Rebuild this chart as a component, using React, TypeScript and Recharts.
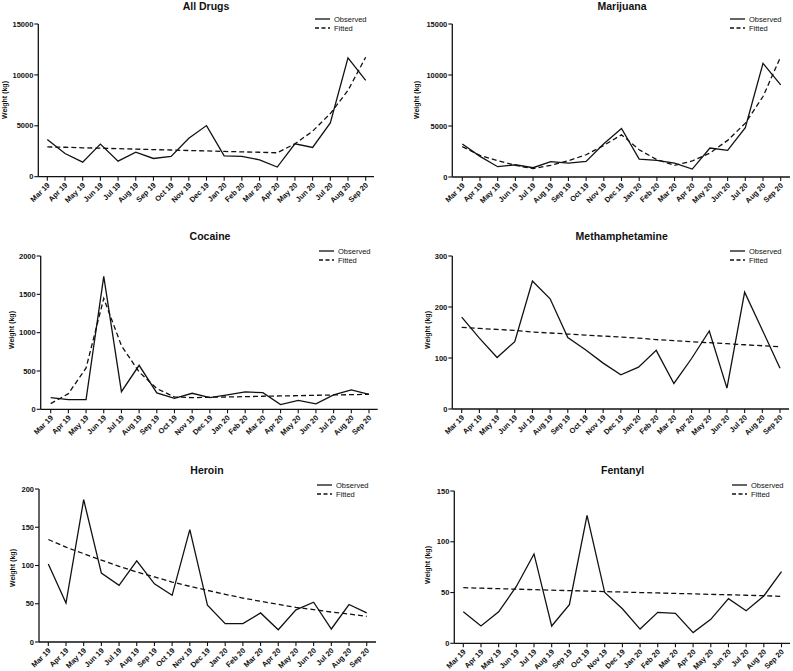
import React from 'react';
import { LineChart, Line, XAxis, YAxis } from 'recharts';

const months = ['Mar 19', 'Apr 19', 'May 19', 'Jun 19', 'Jul 19', 'Aug 19', 'Sep 19', 'Oct 19', 'Nov 19', 'Dec 19', 'Jan 20', 'Feb 20', 'Mar 20', 'Apr 20', 'May 20', 'Jun 20', 'Jul 20', 'Aug 20', 'Sep 20'];

const allDrugsObserved = [3650, 2280, 1430, 3200, 1530, 2410, 1790, 1990, 3780, 5020, 2050, 1990, 1660, 950, 3230, 2870, 5280, 11670, 9460];
const allDrugsFitted = [2930, 2890, 2840, 2800, 2750, 2710, 2660, 2620, 2570, 2530, 2480, 2440, 2400, 2350, 3230, 4470, 6200, 8480, 11740];

const marijuanaObserved = [3230, 2020, 1010, 1200, 910, 1500, 1370, 1530, 3250, 4760, 1760, 1630, 1370, 780, 2840, 2610, 4830, 11150, 9030];
const marijuanaFitted = [2970, 2120, 1600, 1140, 820, 1140, 1600, 2180, 3100, 4140, 2670, 1700, 1140, 1570, 2350, 3590, 5280, 7890, 11800];

const cocaineObserved = [152, 126, 126, 1735, 230, 574, 213, 143, 209, 152, 187, 226, 217, 61, 117, 70, 187, 252, 196];
const cocaineFitted = [74, 204, 539, 1448, 830, 487, 270, 161, 152, 157, 161, 165, 170, 174, 178, 183, 187, 191, 196];

const methObserved = [180, 139, 101, 132, 251, 216, 140, 116, 90, 67, 82, 115, 50, 99, 153, 41, 229, 155, 80];
const methFitted = [160, 158, 156, 154, 151, 149, 147, 145, 143, 141, 139, 136, 134, 132, 130, 128, 126, 124, 122];

const heroinObserved = [102, 51, 186, 90, 74, 106, 76, 61, 147, 48, 24, 24, 38, 16, 42, 52, 17, 49, 38];
const heroinFitted = [134, 124, 115.5, 107, 99, 91.5, 85, 78.4, 72.8, 67.5, 62.3, 57.5, 53.2, 49.2, 45.3, 42.3, 39.2, 36.6, 33.5];

const fentanylObserved = [31, 17, 31, 56, 88, 17, 38, 126, 50, 34, 14, 30.5, 29.5, 10.5, 23.6, 44, 32, 46.6, 70.6];
const fentanylFitted = [54.8, 54.3, 53.8, 53.3, 52.8, 52.3, 51.9, 51.4, 50.9, 50.5, 50.0, 49.6, 49.1, 48.7, 48.2, 47.8, 47.3, 46.9, 46.2];

const allDrugsTicks = [0, 5000, 10000, 15000];
const marijuanaTicks = [0, 5000, 10000, 15000];
const cocaineTicks = [0, 500, 1000, 1500, 2000];
const methTicks = [0, 100, 200, 300];
const heroinTicks = [0, 50, 100, 150, 200];
const fentanylTicks = [0, 50, 100, 150];

const FONT = '"Liberation Sans", Arial, Helvetica, sans-serif';

type Panel = {
  title: string;
  obs: number[];
  fit: number[];
  ticks: number[];
  left: number;
  axisX: number;
  xEnd: number;
  top: number;
  bottom: number;
  padL: number;
  padR: number;
  titleX: number;
  titleY: number;
  legendX: number;
  legendY: number;
  yLabelX: number;
  yLabelY: number;
};

const panels: Panel[] = [
  { title: 'All Drugs', obs: allDrugsObserved, fit: allDrugsFitted, ticks: allDrugsTicks, left: 0, axisX: 38.3, xEnd: 374, top: 24, bottom: 176.7, padL: 9, padR: 8.3, titleX: 206, titleY: 6, legendX: 315, legendY: 19, yLabelX: 5, yLabelY: 100 },
  { title: 'Marijuana', obs: marijuanaObserved, fit: marijuanaFitted, ticks: marijuanaTicks, left: 400, axisX: 452.3, xEnd: 790, top: 24, bottom: 177, padL: 10, padR: 9.3, titleX: 622, titleY: 6, legendX: 730, legendY: 19, yLabelX: 417, yLabelY: 100 },
  { title: 'Cocaine', obs: cocaineObserved, fit: cocaineFitted, ticks: cocaineTicks, left: 0, axisX: 40.7, xEnd: 377.7, top: 255.7, bottom: 409, padL: 10, padR: 8.7, titleX: 210, titleY: 236, legendX: 319, legendY: 251, yLabelX: 12, yLabelY: 330 },
  { title: 'Methamphetamine', obs: methObserved, fit: methFitted, ticks: methTicks, left: 400, axisX: 452.3, xEnd: 789, top: 256, bottom: 409, padL: 9.4, padR: 9, titleX: 621.7, titleY: 236, legendX: 730, legendY: 251, yLabelX: 428, yLabelY: 330 },
  { title: 'Heroin', obs: heroinObserved, fit: heroinFitted, ticks: heroinTicks, left: 0, axisX: 39, xEnd: 376, top: 489.3, bottom: 642.3, padL: 9.3, padR: 9.3, titleX: 207, titleY: 470, legendX: 317, legendY: 484.7, yLabelX: 13, yLabelY: 568 },
  { title: 'Fentanyl', obs: fentanylObserved, fit: fentanylFitted, ticks: fentanylTicks, left: 400, axisX: 454.3, xEnd: 790, top: 491, bottom: 643.3, padL: 9, padR: 8.5, titleX: 622.7, titleY: 470, legendX: 732, legendY: 485, yLabelX: 428, yLabelY: 565 },
];

const XTick = (props: any) => {
  const { x, y, payload } = props;
  const ax = x + 3;
  const ay = y + 3;
  return (
    <text x={ax} y={ay} transform={`rotate(-45 ${ax} ${ay})`} textAnchor="end" fontSize={7.5} fontWeight="bold" fontFamily={FONT} fill="#111">
      {payload.value}
    </text>
  );
};

const MT = 5;
const XH = 34;

function PanelChart({ p }: { p: Panel }) {
  const data = months.map((m, i) => ({ month: m, observed: p.obs[i], fitted: p.fit[i] }));
  const yW = p.axisX - p.left;
  const width = p.xEnd - p.left + 2;
  const plotH = p.bottom - p.top;
  const height = plotH + MT + XH;
  const max = p.ticks[p.ticks.length - 1];
  return (
    <>
      <div style={{ position: 'absolute', left: p.left, top: p.top - MT }}>
        <LineChart width={width} height={height} data={data} margin={{ top: MT, right: 2, bottom: 0, left: 0 }}>
          <XAxis
            dataKey="month"
            interval={0}
            height={XH}
            padding={{ left: p.padL, right: p.padR }}
            tick={<XTick />}
            tickSize={4}
            tickMargin={2}
            axisLine={{ stroke: '#111', strokeWidth: 1.3 }}
            tickLine={{ stroke: '#111', strokeWidth: 1.1 }}
          />
          <YAxis
            width={yW}
            domain={[0, max]}
            ticks={p.ticks}
            interval={0}
            tickSize={4}
            tickMargin={1}
            tick={{ fontSize: 7.5, fontWeight: 'bold', fontFamily: FONT, fill: '#111' }}
            axisLine={{ stroke: '#111', strokeWidth: 1.3 }}
            tickLine={{ stroke: '#111', strokeWidth: 1.1 }}
          />
          <Line type="linear" dataKey="observed" stroke="#111" strokeWidth={1.3} dot={false} isAnimationActive={false} />
          <Line type="linear" dataKey="fitted" stroke="#111" strokeWidth={1.3} strokeDasharray="5 3" dot={false} isAnimationActive={false} />
        </LineChart>
      </div>
      <div style={{ position: 'absolute', left: p.titleX - 100, width: 200, top: p.titleY - 7, textAlign: 'center', fontFamily: FONT, fontWeight: 'bold', fontSize: 10.5, lineHeight: '14px', color: '#111' }}>
        {p.title}
      </div>
      <div style={{ position: 'absolute', left: p.yLabelX - 40, top: p.yLabelY - 5, width: 80, height: 10, lineHeight: '10px', textAlign: 'center', transform: 'rotate(-90deg)', fontFamily: FONT, fontWeight: 'bold', fontSize: 7, color: '#111' }}>
        Weight (kg)
      </div>
      <svg style={{ position: 'absolute', left: p.legendX, top: p.legendY - 5 }} width={60} height={20}>
        <line x1={0} y1={5} x2={15} y2={5} stroke="#111" strokeWidth={1.3} />
        <line x1={0} y1={14} x2={15} y2={14} stroke="#111" strokeWidth={1.3} strokeDasharray="4 2.5" />
        <text x={19} y={7.6} fontSize={7.5} fontFamily={FONT} fill="#111">Observed</text>
        <text x={19} y={16.6} fontSize={7.5} fontFamily={FONT} fill="#111">Fitted</text>
      </svg>
    </>
  );
}

export default function App() {
  return (
    <div style={{ position: 'absolute', left: 0, top: 0, width: 793, height: 671, background: '#fff', overflow: 'hidden' }}>
      {panels.map((p) => (
        <PanelChart key={p.title} p={p} />
      ))}
    </div>
  );
}
